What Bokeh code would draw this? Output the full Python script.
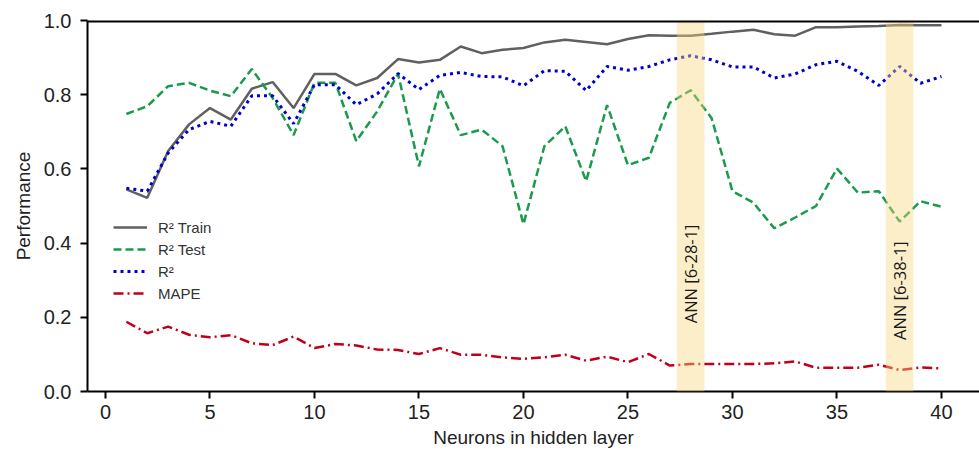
import math
from bokeh.plotting import figure
from bokeh.models import BoxAnnotation, Label, Span, FixedTicker, Range1d, CustomJSTickFormatter
from bokeh.embed import file_html
from bokeh.resources import INLINE

neurons = list(range(1, 41))
r2_train = [0.545, 0.522, 0.648, 0.720, 0.764, 0.733, 0.816, 0.834, 0.764, 0.856,
            0.856, 0.825, 0.845, 0.896, 0.887, 0.894, 0.930, 0.912, 0.921, 0.926,
            0.941, 0.948, 0.942, 0.936, 0.950, 0.960, 0.959, 0.959, 0.964, 0.970,
            0.975, 0.963, 0.959, 0.982, 0.982, 0.984, 0.985, 0.988, 0.987, 0.987]
r2_test = [0.748, 0.769, 0.823, 0.832, 0.811, 0.796, 0.869, 0.791, 0.691, 0.832,
           0.832, 0.675, 0.755, 0.856, 0.607, 0.816, 0.691, 0.706, 0.661, 0.451,
           0.661, 0.715, 0.567, 0.772, 0.610, 0.630, 0.778, 0.812, 0.737, 0.540,
           0.509, 0.440, 0.469, 0.500, 0.601, 0.536, 0.540, 0.458, 0.513, 0.498]
r2_all = [0.548, 0.540, 0.643, 0.706, 0.728, 0.715, 0.797, 0.797, 0.722, 0.827,
          0.827, 0.773, 0.802, 0.857, 0.814, 0.852, 0.860, 0.849, 0.848, 0.824,
          0.865, 0.863, 0.811, 0.876, 0.866, 0.876, 0.894, 0.905, 0.894, 0.875,
          0.875, 0.845, 0.856, 0.881, 0.890, 0.863, 0.825, 0.876, 0.831, 0.849]
mape = [0.188, 0.157, 0.175, 0.153, 0.146, 0.152, 0.130, 0.125, 0.148, 0.117,
        0.128, 0.124, 0.113, 0.112, 0.101, 0.117, 0.099, 0.099, 0.092, 0.088,
        0.092, 0.099, 0.083, 0.094, 0.079, 0.101, 0.070, 0.074, 0.074, 0.074,
        0.074, 0.076, 0.081, 0.064, 0.064, 0.064, 0.072, 0.058, 0.065, 0.062]
highlight_neurons = [28, 38]
highlight_labels = ["ANN [6-28-1]", "ANN [6-38-1]"]
x_ticks = [0, 5, 10, 15, 20, 25, 30, 35, 40]
y_ticks = [0.0, 0.2, 0.4, 0.6, 0.8, 1.0]

FONT = "Liberation Sans"

p = figure(width=979, height=453, output_backend="svg", toolbar_location=None,
           x_range=Range1d(-0.86, 41.82), y_range=Range1d(0.0, 1.0),
           min_border_left=87, min_border_right=0, min_border_top=20,
           min_border_bottom=62)
p.outline_line_color = None
p.grid.grid_line_color = None
p.background_fill_color = "white"
p.border_fill_color = "white"

p.line(neurons, r2_train, line_color="#606060", line_width=2.5, legend_label="R² Train")
p.line(neurons, r2_test, line_color="#1A9A4C", line_width=2.5, line_dash="8 4",
       legend_label="R² Test")
p.line(neurons, r2_all, line_color="#0000CD", line_width=3, line_dash="3 4",
       legend_label="R²")
p.line(neurons, mape, line_color="#C0001A", line_width=2.5, line_dash="10 4 2 4",
       legend_label="MAPE")

label_y = [0.317, 0.272]
for c in highlight_neurons:
    p.add_layout(BoxAnnotation(left=c - 0.66, right=c + 0.66, fill_color="#F9D77E",
                               fill_alpha=0.42, line_color=None))
for c, txt, ly in zip(highlight_neurons, highlight_labels, label_y):
    p.add_layout(Label(x=c, y=ly, text=txt, angle=math.pi / 2, text_align="center",
                       text_baseline="middle", text_font="Open Sans",
                       text_font_size="16.5px", text_color="#1a1a1a"))

p.add_layout(Span(location=1.0, dimension="width", line_color="black", line_width=4))

for ax in (p.xaxis[0], p.yaxis[0]):
    ax.axis_line_color = "black"
    ax.axis_line_width = 2
    ax.major_tick_line_color = "black"
    ax.major_tick_line_width = 2
    ax.major_tick_out = 7
    ax.major_tick_in = 0
    ax.minor_tick_line_color = None
    ax.major_label_text_font = FONT
    ax.major_label_text_font_size = "20px"
    ax.major_label_text_color = "#222222"
    ax.axis_label_text_font = FONT
    ax.axis_label_text_font_size = "19px"
    ax.axis_label_text_font_style = "normal"
    ax.axis_label_text_color = "#222222"

p.xaxis.ticker = FixedTicker(ticks=x_ticks)
p.yaxis.ticker = FixedTicker(ticks=y_ticks)
p.yaxis.formatter = CustomJSTickFormatter(code="return tick.toFixed(1);")
p.xaxis.axis_label = "Neurons in hidden layer"
p.yaxis.axis_label = "Performance"
p.xaxis.major_label_standoff = 6
p.yaxis.major_label_standoff = 9
p.xaxis.axis_label_standoff = 5
p.yaxis.axis_label_standoff = 7

lg = p.legend[0]
lg.location = (26, 87)
lg.background_fill_alpha = 0
lg.border_line_color = None
lg.label_text_font = FONT
lg.label_text_font_size = "15px"
lg.label_text_color = "#333333"
lg.glyph_width = 34
lg.glyph_height = 22
lg.label_height = 22
lg.label_standoff = 11
lg.spacing = 0
lg.padding = 0
lg.margin = 0

open("out.html", "w").write(file_html(p, INLINE))
